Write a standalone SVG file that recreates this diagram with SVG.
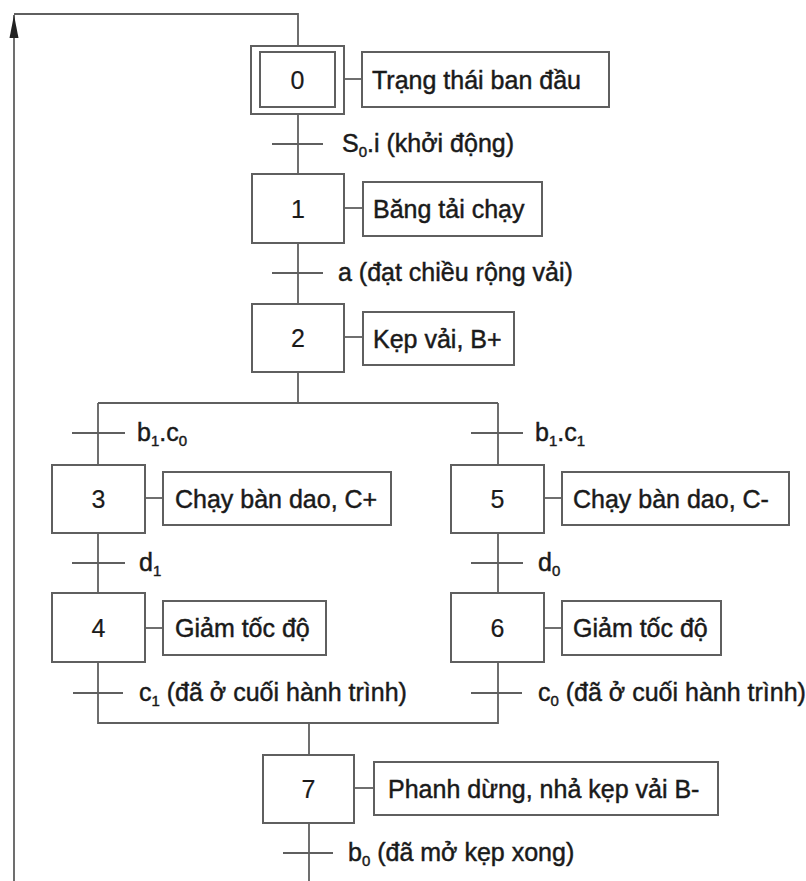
<svg xmlns="http://www.w3.org/2000/svg" width="806" height="881" viewBox="0 0 806 881">
  <style>
    .box { fill: #ffffff; stroke: #5f5f5f; stroke-width: 2; }
    .ln { fill: none; stroke: #5f5f5f; stroke-width: 1.8; }
    .num { font-family: "Liberation Sans", Arial, sans-serif; font-size: 25px; fill: #1a1a1a; text-anchor: middle; stroke: #1a1a1a; stroke-width: 0.2; }
    .txt { font-family: "Liberation Sans", Arial, sans-serif; font-size: 25px; fill: #1a1a1a; stroke: #1a1a1a; stroke-width: 0.45; }
    .sub { font-size: 15px; }
  </style>

  <rect width="806" height="881" fill="#ffffff"/>

  <!-- connectors: links, branches and transition ticks -->
  <g id="connectors">
    <!-- return loop from step 7 back to step 0 -->
    <path class="ln" d="M14,881 V15"/>
    <path d="M14,15 L9.5,38 L18.5,38 Z" fill="#222"/>
    <path class="ln" d="M14,14 H298 V46"/>
    <!-- main column -->
    <path class="ln" d="M298,114 V174"/>
    <path class="ln" d="M298,243 V304"/>
    <path class="ln" d="M298,372 V403"/>
    <!-- divergence -->
    <path class="ln" d="M98,403 H498"/>
    <path class="ln" d="M98,403 V465"/>
    <path class="ln" d="M498,403 V465"/>
    <path class="ln" d="M98,533 V593"/>
    <path class="ln" d="M498,533 V593"/>
    <!-- convergence -->
    <path class="ln" d="M98,662 V723 H498 V662"/>
    <path class="ln" d="M309,723 V755"/>
    <path class="ln" d="M309,823 V881"/>
    <!-- step to action links -->
    <path class="ln" d="M344,79 H362"/>
    <path class="ln" d="M344,208 H363"/>
    <path class="ln" d="M344,337 H363"/>
    <path class="ln" d="M145,498 H163"/>
    <path class="ln" d="M145,628 H163"/>
    <path class="ln" d="M544,498 H562"/>
    <path class="ln" d="M544,628 H562"/>
    <path class="ln" d="M354,788 H374"/>
    <!-- transition ticks -->
    <path class="ln" d="M272,144 H323"/>
    <path class="ln" d="M272,273 H323"/>
    <path class="ln" d="M72,433 H125"/>
    <path class="ln" d="M471,433 H523"/>
    <path class="ln" d="M72,563 H125"/>
    <path class="ln" d="M471,563 H523"/>
    <path class="ln" d="M73,693 H123"/>
    <path class="ln" d="M471,693 H522"/>
    <path class="ln" d="M283,853 H333"/>
  </g>

  <!-- transition conditions -->
  <g id="transitions">
    <text class="txt" x="342" y="152">S<tspan class="sub" dy="5">0</tspan><tspan dy="-5">.i (khởi động)</tspan></text>
    <text class="txt" x="338" y="281">a (đạt chiều rộng vải)</text>
    <text class="txt" x="137" y="441">b<tspan class="sub" dy="5">1</tspan><tspan dy="-5">.c</tspan><tspan class="sub" dy="5">0</tspan></text>
    <text class="txt" x="535" y="441">b<tspan class="sub" dy="5">1</tspan><tspan dy="-5">.c</tspan><tspan class="sub" dy="5">1</tspan></text>
    <text class="txt" x="139" y="571">d<tspan class="sub" dy="5">1</tspan></text>
    <text class="txt" x="538" y="571">d<tspan class="sub" dy="5">0</tspan></text>
    <text class="txt" x="139" y="701">c<tspan class="sub" dy="5">1</tspan><tspan dy="-5"> (đã ở cuối hành trình)</tspan></text>
    <text class="txt" x="538" y="701">c<tspan class="sub" dy="5">0</tspan><tspan dy="-5"> (đã ở cuối hành trình)</tspan></text>
    <text class="txt" x="348" y="861">b<tspan class="sub" dy="5">0</tspan><tspan dy="-5"> (đã mở kẹp xong)</tspan></text>
  </g>

  <!-- steps -->
  <g id="step0">
    <rect class="box" x="251" y="46" width="93" height="68"/>
    <rect class="box" x="260" y="52" width="75" height="55"/>
    <text class="num" x="297.5" y="89">0</text>
  </g>
  <g id="step1">
    <rect class="box" x="252" y="174" width="92" height="69"/>
    <text class="num" x="298" y="217.5">1</text>
  </g>
  <g id="step2">
    <rect class="box" x="252" y="304" width="92" height="68"/>
    <text class="num" x="298" y="347">2</text>
  </g>
  <g id="step3">
    <rect class="box" x="52" y="465" width="93" height="68"/>
    <text class="num" x="98.5" y="508">3</text>
  </g>
  <g id="step4">
    <rect class="box" x="52" y="593" width="93" height="69"/>
    <text class="num" x="98.5" y="636.5">4</text>
  </g>
  <g id="step5">
    <rect class="box" x="451" y="465" width="93" height="68"/>
    <text class="num" x="497.5" y="508">5</text>
  </g>
  <g id="step6">
    <rect class="box" x="451" y="593" width="93" height="69"/>
    <text class="num" x="497.5" y="636.5">6</text>
  </g>
  <g id="step7">
    <rect class="box" x="263" y="755" width="91" height="68"/>
    <text class="num" x="308.5" y="798">7</text>
  </g>

  <!-- actions -->
  <g id="action0">
    <rect class="box" x="362" y="52" width="247" height="55"/>
    <text class="txt" x="372" y="88.5">Trạng thái ban đầu</text>
  </g>
  <g id="action1">
    <rect class="box" x="363" y="182" width="179" height="54"/>
    <text class="txt" x="373" y="218">Băng tải chạy</text>
  </g>
  <g id="action2">
    <rect class="box" x="363" y="312" width="151" height="53"/>
    <text class="txt" x="373" y="347.5">Kẹp vải, B+</text>
  </g>
  <g id="action3">
    <rect class="box" x="163" y="472" width="228" height="53"/>
    <text class="txt" x="175" y="507.5">Chạy bàn dao, C+</text>
  </g>
  <g id="action4">
    <rect class="box" x="163" y="601" width="163" height="54"/>
    <text class="txt" x="175" y="637">Giảm tốc độ</text>
  </g>
  <g id="action5">
    <rect class="box" x="562" y="472" width="227" height="53"/>
    <text class="txt" x="573" y="507.5">Chạy bàn dao, C-</text>
  </g>
  <g id="action6">
    <rect class="box" x="562" y="601" width="159" height="54"/>
    <text class="txt" x="573" y="637">Giảm tốc độ</text>
  </g>
  <g id="action7">
    <rect class="box" x="374" y="762" width="344" height="53"/>
    <text class="txt" x="388" y="797.5">Phanh dừng, nhả kẹp vải B-</text>
  </g>
</svg>
